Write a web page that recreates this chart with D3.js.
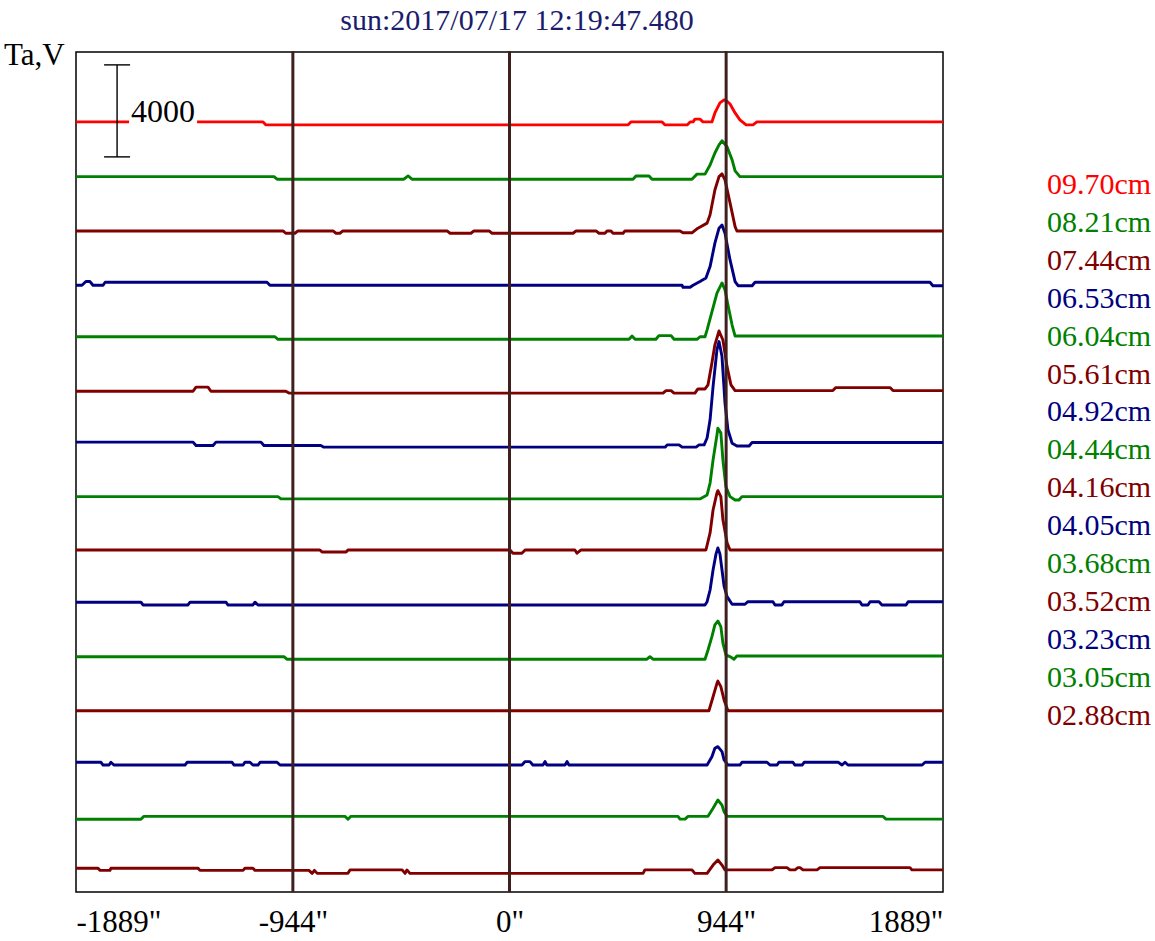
<!DOCTYPE html>
<html>
<head>
<meta charset="utf-8">
<script src="https://cdn.jsdelivr.net/npm/d3@7"></script>
<style>
  body { margin: 0; background: #fff; }
  text { font-family: "Liberation Serif", "Times New Roman", serif; }
</style>
</head>
<body>
<svg id="chart" width="1155" height="941"></svg>
<script>
// band names, top to bottom
var bands = ["09.70cm", "08.21cm", "07.44cm", "06.53cm", "06.04cm", "05.61cm", "04.92cm", "04.44cm",
             "04.16cm", "04.05cm", "03.68cm", "03.52cm", "03.23cm", "03.05cm", "02.88cm"];
var bandColors = ["#ff0000", "#008000", "#800000", "#000080", "#008000", "#800000", "#000080", "#008000",
                  "#800000", "#000080", "#008000", "#800000", "#000080", "#008000", "#800000"];

// scans: [position arcsec, Ta relative to the band's offset]
var scan0970 = [[-1889,0],[-1074,0],[-1061,-130],[516,-130],[529,0],[665,0],[678,-130],[774,-130],[787,0],[800,0],[808,120],[830,120],[843,0],[882,0],[895,390],[917,830],[935,960],[948,900],[961,780],[983,390],[1004,90],[1031,-130],[1061,-130],[1078,0],[1889,0]];
var scan0821 = [[-1889,-60],[-1026,-60],[-1013,-170],[-460,-170],[-442,-30],[-425,-170],[538,-170],[551,-30],[608,-30],[621,-170],[795,-170],[817,50],[852,50],[874,450],[895,970],[913,1320],[926,1500],[948,1240],[970,670],[983,190],[1004,-60],[1889,-60]];
var scan0744 = [[-1889,-100],[-987,-100],[-975,-200],[-935,-200],[-922,-100],[-769,-100],[-756,-200],[-739,-200],[-726,-100],[-272,-100],[-259,-200],[-168,-200],[-155,-100],[-89,-100],[-76,-200],[277,-200],[290,-100],[377,-100],[390,-200],[416,-200],[425,-100],[442,-100],[451,-200],[495,-200],[503,-100],[743,-100],[756,-180],[795,-180],[821,20],[861,240],[874,600],[895,1680],[913,2260],[926,2380],[939,2120],[961,1120],[983,90],[991,-100],[1889,-100]];
var scan0653 = [[-1889,-140],[-1863,-140],[-1846,20],[-1828,20],[-1815,-140],[-1771,-140],[-1762,-10],[-1057,-10],[-1044,-140],[752,-140],[756,-230],[787,-230],[800,-140],[830,20],[856,170],[874,670],[895,1690],[913,2340],[926,2480],[939,2120],[961,960],[983,20],[996,-160],[1057,-160],[1070,-10],[1832,-10],[1845,-160],[1889,-160]];
var scan0604 = [[-1889,-60],[-1022,-60],[-1009,-170],[521,-170],[534,-30],[547,-170],[638,-170],[651,-10],[704,-10],[717,-170],[817,-170],[830,-60],[852,-60],[861,240],[904,1840],[926,2280],[939,1970],[952,1320],[970,450],[983,-30],[1889,-30]];
var scan0561 = [[-1889,-110],[-1379,-110],[-1366,70],[-1314,70],[-1301,-110],[-975,-110],[-961,-190],[669,-190],[682,-80],[704,-80],[717,-190],[808,-190],[821,-10],[852,-10],[865,170],[882,1120],[895,1910],[913,2510],[930,2120],[948,960],[965,170],[983,-80],[1409,-80],[1422,50],[1658,50],[1671,-80],[1889,-80]];
var scan0492 = [[-1889,0],[-1379,0],[-1366,-150],[-1292,-150],[-1279,0],[-1083,0],[-1070,-150],[-822,-150],[-809,-220],[678,-220],[687,-120],[739,-120],[752,-220],[813,-220],[826,-120],[848,-120],[861,180],[874,970],[887,2410],[904,4010],[913,4370],[926,3720],[939,1700],[952,530],[970,-50],[991,-170],[1044,-170],[1057,-20],[1889,-20]];
var scan0444 = [[-1889,-50],[-1009,-50],[-996,-150],[830,-150],[861,20],[874,540],[887,1540],[904,2630],[908,2920],[921,2720],[930,1540],[943,380],[961,-50],[983,-200],[1000,-200],[1013,-50],[1889,-50]];
var scan0416 = [[-1889,-50],[-826,-50],[-817,-140],[-712,-140],[-704,-50],[2,-50],[15,-190],[54,-190],[68,-50],[285,-50],[294,-190],[312,-50],[856,-50],[874,690],[887,1690],[904,2430],[908,2530],[921,2270],[930,1260],[948,260],[961,-50],[1889,-50]];
var scan0405 = [[-1889,0],[-1606,0],[-1597,-120],[-1401,-120],[-1392,0],[-1235,0],[-1227,-120],[-1118,-120],[-1109,0],[-1096,-120],[852,-120],[861,20],[874,530],[887,1400],[900,2100],[908,2360],[917,2100],[926,1400],[935,700],[948,240],[970,-90],[1026,-90],[1039,20],[1148,20],[1157,-120],[1187,-120],[1196,20],[1527,20],[1536,-120],[1562,-120],[1571,20],[1610,20],[1623,-120],[1728,-120],[1737,20],[1889,20]];
var scan0368 = [[-1889,-50],[-983,-50],[-970,-160],[599,-160],[612,-50],[625,-160],[852,-160],[865,240],[882,820],[895,1330],[908,1500],[921,1260],[930,540],[943,30],[965,-70],[978,-160],[991,-20],[1889,-20]];
var scan0352 = [[-1889,-80],[869,-80],[887,530],[904,1110],[908,1210],[921,970],[935,390],[952,-80],[1889,-80]];
var scan0323 = [[-1889,0],[-1780,0],[-1771,-120],[-1745,-120],[-1737,0],[-1724,-120],[-1414,-120],[-1405,0],[-1209,0],[-1200,-120],[-1161,-120],[-1153,0],[-1131,0],[-1118,-120],[-1096,-120],[-1087,0],[-1013,0],[-1000,-120],[54,-120],[68,30],[89,30],[102,-120],[146,-120],[155,30],[163,-120],[242,-120],[251,30],[259,-120],[861,-120],[882,240],[895,610],[908,680],[926,460],[935,100],[952,-120],[1004,-120],[1013,0],[1122,0],[1135,-120],[1166,-120],[1174,0],[1235,0],[1244,-120],[1275,-120],[1284,0],[1432,0],[1449,-120],[1462,0],[1475,-120],[1798,-120],[1811,0],[1889,0]];
var scan0305 = [[-1889,-160],[-1606,-160],[-1593,-30],[-717,-30],[-704,-160],[-691,-30],[734,-30],[743,-150],[765,-150],[778,-30],[865,-30],[887,320],[908,680],[926,460],[935,170],[948,-30],[1627,-30],[1641,-150],[1889,-150]];
var scan0288 = [[-1889,30],[-1793,30],[-1784,-60],[-1741,-60],[-1737,30],[-1357,30],[-1349,-60],[-1161,-60],[-1153,30],[-1118,30],[-1109,-60],[-874,-60],[-860,-190],[-850,-60],[-838,-190],[-704,-190],[-695,-40],[-468,-40],[-455,-190],[-447,-40],[-434,-190],[582,-190],[590,-40],[795,-40],[808,-190],[861,-190],[887,170],[908,390],[926,170],[939,-40],[1144,-40],[1157,60],[1209,60],[1222,-40],[1244,-40],[1257,60],[1266,60],[1279,-40],[1340,-40],[1353,60],[1745,60],[1754,-40],[1889,-40]];

var scans = [scan0970, scan0821, scan0744, scan0653, scan0604, scan0561, scan0492, scan0444,
             scan0416, scan0405, scan0368, scan0352, scan0323, scan0305, scan0288];

var tickValues = [-1889, -944, 0, 944, 1889];
var limbLines = [-944, 0, 944];
var bandStep = 2320;      // Ta between neighbouring scans
var firstOffset = 1000;   // Ta offset of the lowest scan
var scaleBar = {x: -1710, from: 31960, size: 4000};
var title = "sun:2017/07/17 12:19:47.480";

var svg = d3.select("#chart");
var plot = {left: 76, right: 943, top: 52, bottom: 892};

var x = d3.scaleLinear().domain([-1889, 1889]).range([plot.left, plot.right]);
var y = d3.scaleLinear().domain([0, 36520]).range([plot.bottom, plot.top]);

function offset(i) { return firstOffset + (scans.length - 1 - i) * bandStep; }

var line = d3.line()
  .x(function(d) { return x(d[0]); })
  .y(function(d) { return y(d[1] + d.off); });

// title
svg.append("text")
  .attr("x", 517).attr("y", 30)
  .attr("text-anchor", "middle")
  .attr("font-size", 30)
  .attr("fill", "#1c1c6c")
  .text(title);

svg.append("text")
  .attr("x", 4).attr("y", 65)
  .attr("font-size", 31)
  .text("Ta,V");

// frame
svg.append("rect")
  .attr("x", plot.left).attr("y", plot.top)
  .attr("width", plot.right - plot.left).attr("height", plot.bottom - plot.top)
  .attr("fill", "none").attr("stroke", "#000").attr("stroke-width", 1.5);

// scans
svg.append("g").selectAll("path")
  .data(scans).enter().append("path")
    .attr("d", function(s, i) {
      var off = offset(i);
      return line(s.map(function(p) { var q = p.slice(); q.off = off; return q; }));
    })
    .attr("fill", "none")
    .attr("stroke", function(s, i) { return bandColors[i]; })
    .attr("stroke-width", 2.9)
    .attr("stroke-linejoin", "round");

// scale bar
var sbx = x(scaleBar.x);
var sb = svg.append("g").attr("stroke", "#000").attr("stroke-width", 1.4);
sb.append("line").attr("x1", sbx).attr("x2", sbx)
  .attr("y1", y(scaleBar.from)).attr("y2", y(scaleBar.from + scaleBar.size));
[scaleBar.from, scaleBar.from + scaleBar.size].forEach(function(v) {
  sb.append("line").attr("x1", sbx - 13).attr("x2", sbx + 13).attr("y1", y(v)).attr("y2", y(v));
});
var sbLabel = svg.append("text")
  .attr("x", sbx + 14).attr("y", y(scaleBar.from + scaleBar.size / 2) + 11)
  .attr("font-size", 32)
  .text(scaleBar.size);
var bb = sbLabel.node().getBBox();
svg.insert("rect", function() { return sbLabel.node(); })
  .attr("x", bb.x - 2).attr("y", bb.y).attr("width", bb.width + 4).attr("height", bb.height)
  .attr("fill", "#fff");

// limb lines
svg.append("g").selectAll("line")
  .data(limbLines).enter().append("line")
    .attr("x1", function(d) { return x(d); }).attr("x2", function(d) { return x(d); })
    .attr("y1", plot.top - 1).attr("y2", plot.bottom)
    .attr("stroke", "#40201f").attr("stroke-width", 3);

// x axis labels
var axis = svg.append("g")
  .attr("transform", "translate(0," + plot.bottom + ")")
  .call(d3.axisBottom(x).tickValues(tickValues).tickSize(0).tickPadding(18)
    .tickFormat(function(d) { return d + '"'; }));
axis.select(".domain").remove();
axis.selectAll("text")
  .attr("font-size", 31).attr("font-family", "Liberation Serif, serif").attr("fill", "#000")
  .attr("text-anchor", function(d, i) { return i === 0 ? "start" : (i === tickValues.length - 1 ? "end" : "middle"); });

// legend
svg.append("g").selectAll("text")
  .data(bands).enter().append("text")
    .attr("x", 1047)
    .attr("y", function(d, i) { return 194 + i * 37.9; })
    .attr("font-size", 30)
    .attr("fill", function(d, i) { return bandColors[i]; })
    .text(function(d) { return d; });
</script>
</body>
</html>
